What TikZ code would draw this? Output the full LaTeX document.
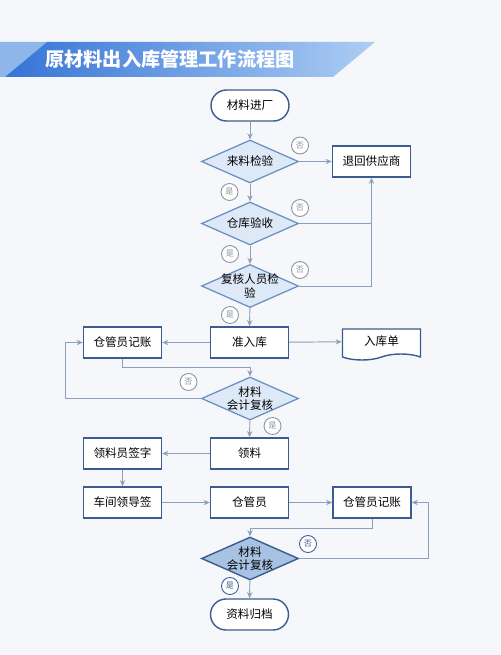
\documentclass[tikz,border=0pt]{standalone}
\usepackage{fontspec}
\newfontfamily\cjk{Noto Sans CJK SC}
\usetikzlibrary{shapes.geometric,shapes.symbols,arrows.meta}

\definecolor{boxline}{HTML}{3B5C8F}
\definecolor{dialine}{HTML}{6A8EC0}
\definecolor{diafill}{HTML}{DDE9F7}
\definecolor{diadark}{HTML}{A8C2E3}
\definecolor{flowline}{HTML}{8DA0BB}
\definecolor{markline}{HTML}{8C929C}
\definecolor{pagebg}{HTML}{F5F7FA}
\definecolor{bannerdark}{HTML}{3574D6}
\definecolor{bannerlight}{HTML}{ADCDF3}
\definecolor{bannerpale}{HTML}{8FB6EA}

\tikzset{
  stepbox/.style={draw=boxline, line width=0.8pt, fill=white, minimum width=1.56cm,
    minimum height=0.62cm, inner sep=0pt, font=\cjk\fontsize{6.6}{8}\selectfont},
  startend/.style={stepbox, rounded corners=0.31cm},
  docbox/.style={stepbox, tape, tape bend top=none, tape bend height=0.12cm},
  check/.style={diamond, draw=dialine, line width=0.7pt, fill=diafill,
    minimum width=1.94cm, minimum height=0.86cm, inner sep=0pt},
  checkdark/.style={check, draw=boxline, line width=0.8pt, fill=diadark},
  checktext/.style={font=\cjk\fontsize{6.6}{7.6}\selectfont, align=center, inner sep=0pt},
  yesno/.style={circle, draw=markline, line width=0.5pt, fill=white, minimum size=0.34cm,
    inner sep=0pt, text=markline, font=\cjk\fontsize{4.6}{5}\selectfont},
  yesnodark/.style={yesno, draw=boxline, text=boxline},
  flow/.style={draw=flowline, line width=0.55pt, -{Stealth[length=3.5pt,width=3pt]}},
  flowplain/.style={draw=flowline, line width=0.55pt},
}

\begin{document}
\begin{tikzpicture}[x=0.02cm, y=-0.02cm]
% page and title banner
\fill[pagebg] (0,0) rectangle (500,655);
\fill[bannerpale] (0,42) -- (47,42) -- (5,77) -- (0,77) -- cycle;
\shade[left color=bannerdark, right color=bannerlight] (47,42) -- (375,42) -- (333,77) -- (5,77) -- cycle;
\node[text=white, font=\cjk\bfseries\fontsize{10.9}{12}\selectfont, inner sep=0pt] (title) at (170,59.5) {原材料出入库管理工作流程图};

% steps
\node[startend] (arrive) at (250,105.5) {材料进厂};
\node[check, label={[checktext]center:来料检验}] (incheck) at (250,161.5) {};
\node[stepbox] (supplier) at (371.5,161.5) {退回供应商};
\node[check, label={[checktext]center:仓库验收}] (store) at (250,223.5) {};
\node[check, label={[checktext]center:复核人员检\\验}] (recheck) at (250,286) {};
\node[stepbox] (accept) at (249.5,342.5) {准入库};
\node[stepbox] (book1) at (122.5,342.5) {仓管员记账};
\node[docbox] (slip) at (381.5,341.5) {入库单};
\node[check, label={[checktext]center:材料\\会计复核}] (audit1) at (250,398.5) {};
\node[stepbox] (pick) at (249.5,453.5) {领料};
\node[stepbox] (picksign) at (122.5,453.5) {领料员签字};
\node[stepbox] (leadsign) at (122.5,502.5) {车间领导签};
\node[stepbox] (keeper) at (249.5,502.5) {仓管员};
\node[stepbox] (book2) at (372,502.5) {仓管员记账};
\node[checkdark, label={[checktext]center:材料\\会计复核}] (audit2) at (250,558.5) {};
\node[startend] (archive) at (249.5,614.5) {资料归档};

% connectors
\draw[flow] (arrive) -- (incheck);
\draw[flow] (incheck) -- (supplier);
\draw[flow] (incheck) -- (store);
\draw[flow] (store) -- (recheck);
\draw[flow] (recheck) -- (accept);
\draw[flowplain] (store.east) -- (store.east -| supplier.south);
\draw[flow] (recheck.east) -| (supplier.south);
\draw[flow] (accept) -- (book1);
\draw[flow] (accept) -- (slip);
\draw[flow] (book1.south) -- ++(0,9) -| (audit1.north);
\draw[flow] (audit1.west) -- ++(-135,0) |- (book1.west);
\draw[flow] (audit1) -- (pick);
\draw[flow] (pick) -- (picksign);
\draw[flow] (picksign) -- (leadsign);
\draw[flow] (leadsign) -- (keeper);
\draw[flow] (keeper) -- (book2);
\draw[flow] (book2.south) -- ++(0,10) -| (audit2.north);
\draw[flow] (audit2.east) -- ++(129,0) |- (book2.east);
\draw[flow] (audit2) -- (archive);

% yes / no marks
\node[yesno] (no1) at (300,145.5) {否};
\node[yesno] (yes1) at (229.5,192) {是};
\node[yesno] (no2) at (300,208) {否};
\node[yesno] (yes2) at (230,254) {是};
\node[yesno] (no3) at (300,270) {否};
\node[yesno] (yes3) at (230,315) {是};
\node[yesno] (no4) at (188.5,382) {否};
\node[yesno] (yes4) at (272.5,426) {是};
\node[yesnodark] (no5) at (308,544) {否};
\node[yesnodark] (yes5) at (230,586) {是};
\end{tikzpicture}
\end{document}
